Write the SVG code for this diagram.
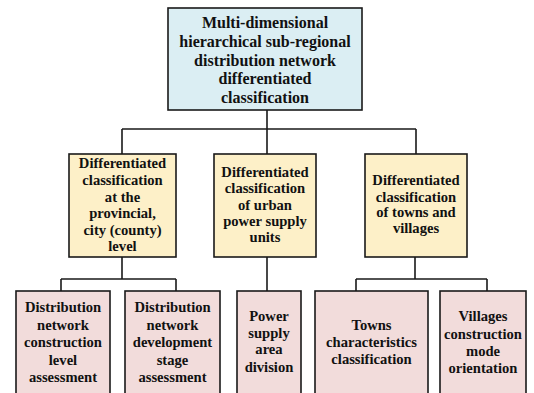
<svg xmlns="http://www.w3.org/2000/svg" width="534" height="393" viewBox="0 0 534 393">
<style>
.b{stroke:#1a1a1a;stroke-width:1.6}
.t0{fill:#dbeef3}
.t1{fill:#fdf0c8}
.t2{fill:#f2dcdb}
text{font-family:"Liberation Serif","Times New Roman",serif;font-weight:bold;fill:#111;text-anchor:middle}
.s0{font-size:16px}
.s1{font-size:14.6px}
.c{fill:none;stroke:#1a1a1a;stroke-width:1.6}
</style>
<rect width="534" height="393" fill="#fff"/>
<g id="connectors">
<path class="c" d="M267,110V129M122,129H416M122,129V154M267,129V154M416,129V154"/>
<path class="c" d="M122,257V279M61,279H176M61,279V291M176,279V291"/>
<path class="c" d="M267,257V291"/>
<path class="c" d="M415,257V279M356,279H487M356,279V291M487,279V291"/>
</g>
<g id="root">
<rect class="b t0" x="168" y="8" width="194" height="102"/>
<text class="s0"><tspan x="265" y="28">Multi-dimensional</tspan><tspan x="265" y="47">hierarchical sub-regional</tspan><tspan x="265" y="65.5">distribution network</tspan><tspan x="265" y="84">differentiated</tspan><tspan x="265" y="102.5">classification</tspan></text>
</g>
<g id="n1">
<rect class="b t1" x="69" y="154" width="107" height="103"/>
<text class="s1"><tspan x="122.5" y="168">Differentiated</tspan><tspan x="122.5" y="185">classification</tspan><tspan x="122.5" y="201.5">at the</tspan><tspan x="122.5" y="218">provincial,</tspan><tspan x="122.5" y="234.5">city (county)</tspan><tspan x="122.5" y="251">level</tspan></text>
</g>
<g id="n2">
<rect class="b t1" x="214" y="154" width="102" height="103"/>
<text class="s1"><tspan x="265" y="177">Differentiated</tspan><tspan x="265" y="193">classification</tspan><tspan x="265" y="210">of urban</tspan><tspan x="265" y="226">power supply</tspan><tspan x="265" y="242">units</tspan></text>
</g>
<g id="n3">
<rect class="b t1" x="365" y="154" width="102" height="103"/>
<text class="s1"><tspan x="416" y="185">Differentiated</tspan><tspan x="416" y="201.5">classification</tspan><tspan x="416" y="217">of towns and</tspan><tspan x="416" y="232.5">villages</tspan></text>
</g>
<g id="n4">
<rect class="b t2" x="16" y="291" width="94" height="110"/>
<text class="s1"><tspan x="63" y="312">Distribution</tspan><tspan x="63" y="329.5">network</tspan><tspan x="63" y="347">construction</tspan><tspan x="63" y="364.5">level</tspan><tspan x="63" y="382">assessment</tspan></text>
</g>
<g id="n5">
<rect class="b t2" x="125" y="291" width="95" height="110"/>
<text class="s1"><tspan x="172.5" y="312">Distribution</tspan><tspan x="172.5" y="329.5">network</tspan><tspan x="172.5" y="347">development</tspan><tspan x="172.5" y="364.5">stage</tspan><tspan x="172.5" y="382">assessment</tspan></text>
</g>
<g id="n6">
<rect class="b t2" x="237" y="291" width="64" height="110"/>
<text class="s1"><tspan x="269" y="321">Power</tspan><tspan x="269" y="338">supply</tspan><tspan x="269" y="354">area</tspan><tspan x="269" y="372">division</tspan></text>
</g>
<g id="n7">
<rect class="b t2" x="315" y="291" width="113" height="110"/>
<text class="s1"><tspan x="371.5" y="330">Towns</tspan><tspan x="371.5" y="347">characteristics</tspan><tspan x="371.5" y="364">classification</tspan></text>
</g>
<g id="n8">
<rect class="b t2" x="440" y="291" width="86" height="110"/>
<text class="s1"><tspan x="483" y="321">Villages</tspan><tspan x="483" y="338.5">construction</tspan><tspan x="483" y="355.5">mode</tspan><tspan x="483" y="373">orientation</tspan></text>
</g>
</svg>
